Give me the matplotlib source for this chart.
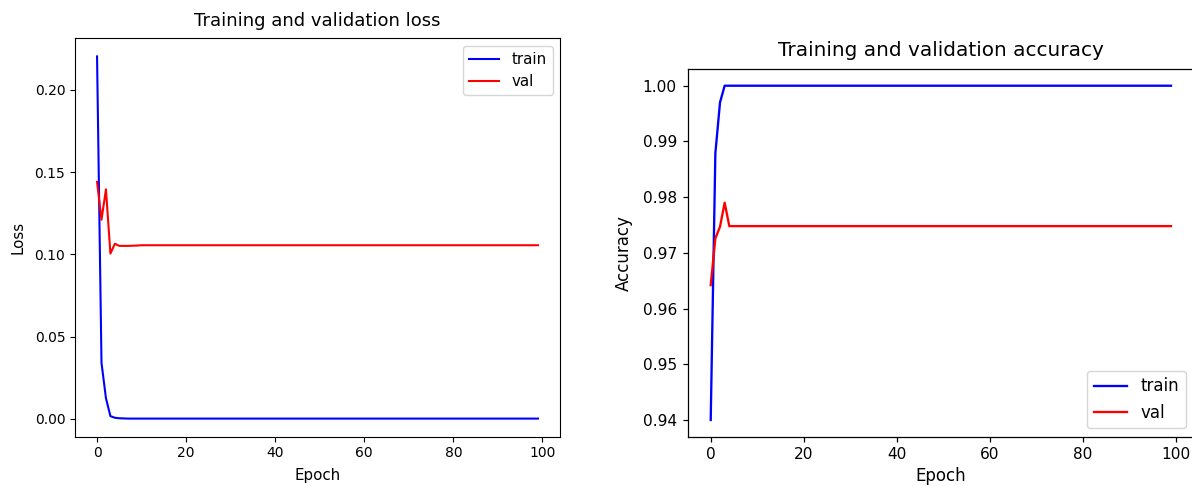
import numpy as np
import matplotlib
matplotlib.use('Agg')
import matplotlib.pyplot as plt

# 에폭
epochs = list(range(100))

# loss 값
train_loss = [0.2203, 0.034, 0.0125, 0.0016, 0.0006, 0.0003, 0.0002] + [0.0001] * 93
val_loss = [0.144, 0.121, 0.1395, 0.1004, 0.1064, 0.1051, 0.1051, 0.1051, 0.1052, 0.1053] + [0.1055] * 90

# accuracy 값
train_acc = [0.94, 0.9879, 0.997] + [1.0] * 97
val_acc = [0.9642, 0.9726, 0.9747, 0.979] + [0.9748] * 96


def draw_panel(ax, y_train, y_val, title, ylabel, legend_loc, s=1.0, xpad=5.5):
    """한 개의 학습 곡선 패널"""
    ax.plot(epochs, y_train, 'b', label='train', linewidth=1.5 * s)
    ax.plot(epochs, y_val, 'r', label='val', linewidth=1.5 * s)
    ax.set_title(title, fontsize=13 * s, pad=8.5 * s)
    ax.set_xlabel('Epoch', fontsize=10.8 * s, labelpad=xpad)
    ax.set_ylabel(ylabel, fontsize=10.8 * s, labelpad=6.5 * s)
    ax.tick_params(labelsize=10 * s, length=3.5 * s, width=0.8 * s, pad=3.5 * s)
    for sp in ax.spines.values():
        sp.set_linewidth(0.8 * s)
    ax.legend(loc=legend_loc, fontsize=10.8 * s)


fig = plt.figure(figsize=(11.92, 4.86), dpi=100)

# 왼쪽: loss
ax1 = fig.add_axes([75 / 1192, 1 - 436.7 / 486, 485 / 1192, 398.4 / 486])
draw_panel(ax1, train_loss, val_loss, 'Training and validation loss', 'Loss', 'upper right')

# 오른쪽: accuracy (약간 확대된 상태로 잘려 있음)
ax2 = fig.add_axes([687.7 / 1192, 1 - 436.7 / 486, 506.3 / 1192, 367.7 / 486])
draw_panel(ax2, train_acc, val_acc, 'Training and validation accuracy', 'Accuracy', 'lower right', s=1.11, xpad=3.5)
ax2.set_yticks([0.94, 0.95, 0.96, 0.97, 0.98, 0.99, 1.00])

fig.savefig('out.png', dpi=100)
